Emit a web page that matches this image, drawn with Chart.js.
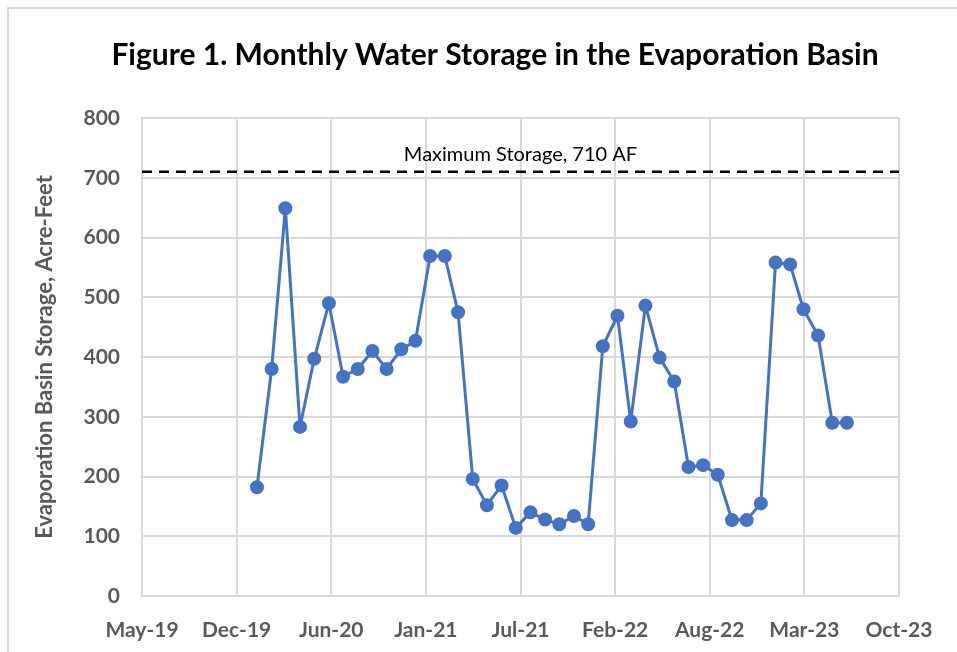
<!DOCTYPE html>
<html lang="en">
<head>
  <meta charset="UTF-8">
  <title>Monthly Water Storage in the Evaporation Basin</title>
  <script src="https://cdn.jsdelivr.net/npm/chart.js"></script>
  <style>
    * { margin: 0; padding: 0; box-sizing: border-box; }
    html, body { width: 957px; height: 652px; overflow: hidden; background: #fff; }
    /* light frame of the chart area, cut off at right and bottom like the picture */
    .frame {
      position: absolute; left: 7px; top: 7px;
      width: 2000px; height: 2000px;
      border: 2px solid #d9d9d9;
    }
    .chart-box { position: absolute; left: 0; top: 0; width: 957px; height: 652px; }
  </style>
</head>
<body>
  <div class="frame"></div>
  <div class="chart-box">
    <canvas id="storageChart"></canvas>
  </div>

  <script>
    // Monthly readings (acre-feet), Jan 2020 - Jun 2023
    const months = [
      '2020-01','2020-02','2020-03','2020-04','2020-05','2020-06',
      '2020-07','2020-08','2020-09','2020-10','2020-11','2020-12',
      '2021-01','2021-02','2021-03','2021-04','2021-05','2021-06',
      '2021-07','2021-08','2021-09','2021-10','2021-11','2021-12',
      '2022-01','2022-02','2022-03','2022-04','2022-05','2022-06',
      '2022-07','2022-08','2022-09','2022-10','2022-11','2022-12',
      '2023-01','2023-02','2023-03','2023-04','2023-05','2023-06'
    ];
    const storage = [
      182, 380, 649, 283, 397, 490,
      367, 380, 410, 380, 413, 427,
      569, 569, 475, 196, 152, 185,
      114, 140, 128, 120, 134, 120,
      418, 469, 292, 486, 399, 359,
      216, 219, 203, 127, 127, 155,
      558, 555, 480, 436, 290, 290
    ];
    const maxStorage = 710;
    const maxLabel = 'Maximum Storage, 710 AF';
    const chartTitle = 'Figure 1. Monthly Water Storage in the Evaporation Basin';

    // date axis: days counted from the axis start, ticks every 200 days
    const axisStart = Date.UTC(2019, 4, 17);
    const axisSpan = 1600;
    const tickStep = 200;
    const tickLabels = ['May-19','Dec-19','Jun-20','Jan-21','Jul-21','Feb-22','Aug-22','Mar-23','Oct-23'];
    const yTicks = { min: 0, max: 800, step: 100 };

    const dayOf = m => {
      const [yr, mo] = m.split('-').map(Number);
      return (Date.UTC(yr, mo - 1, 15) - axisStart) / 86400000;
    };
    const points = months.map((m, i) => ({ x: dayOf(m), y: storage[i] }));

    const blue = '#4472C4';
    const grey = '#595959';
    const gridCol = '#d9d9d9';
    const fam = 'Lato, "Open Sans", sans-serif';

    // title (centred like the original, not on the plot box) + text over the limit line
    const extraText = {
      id: 'extraText',
      afterDraw(chart) {
        const { ctx } = chart;
        ctx.save();
        ctx.textAlign = 'center';
        ctx.fillStyle = '#000';
        ctx.font = 'bold 30px ' + fam;
        ctx.textBaseline = 'middle';
        ctx.fillText(chartTitle, 495, 55);
        ctx.restore();
      },
      afterDatasetsDraw(chart) {
        const { ctx, scales } = chart;
        ctx.save();
        ctx.font = '20px ' + fam;
        ctx.fillStyle = '#000';
        ctx.textAlign = 'center';
        ctx.textBaseline = 'bottom';
        ctx.fillText(maxLabel, scales.x.getPixelForValue(axisSpan / 2), scales.y.getPixelForValue(maxStorage) - 7);
        ctx.restore();
      }
    };

    new Chart(document.getElementById('storageChart'), {
      type: 'line',
      data: {
        datasets: [
          {
            label: 'Storage',
            data: points,
            borderColor: blue,
            backgroundColor: blue,
            borderWidth: 3,
            borderJoinStyle: 'round',
            borderCapStyle: 'round',
            pointRadius: 6,
            pointBorderWidth: 2,
            pointBackgroundColor: blue,
            pointBorderColor: blue,
            tension: 0
          },
          {
            label: 'Maximum',
            data: [{ x: 0, y: maxStorage }, { x: axisSpan, y: maxStorage }],
            borderColor: '#000',
            borderWidth: 2.5,
            borderDash: [10, 7],
            pointRadius: 0
          }
        ]
      },
      options: {
        responsive: true,
        maintainAspectRatio: false,
        animation: false,
        layout: { padding: { left: 20, right: 58, top: 118, bottom: 0 } },
        plugins: {
          legend: { display: false },
          tooltip: { enabled: false },
          title: { display: false }
        },
        scales: {
          x: {
            type: 'linear',
            min: 0,
            max: axisSpan,
            afterBuildTicks: s => {
              s.ticks = tickLabels.map((_, i) => ({ value: i * tickStep }));
            },
            afterFit: s => { s.height = 56; },
            grid: { color: gridCol, lineWidth: 2, drawTicks: false },
            border: { color: gridCol, width: 2 },
            ticks: {
              padding: 22,
              maxRotation: 0,
              color: grey,
              font: { family: fam, size: 21, weight: 'bold' },
              callback: (v, i) => tickLabels[i]
            }
          },
          y: {
            min: yTicks.min,
            max: yTicks.max,
            afterFit: s => { s.width = 122; },
            grid: { color: gridCol, lineWidth: 2, drawTicks: false },
            border: { color: gridCol, width: 2 },
            ticks: {
              stepSize: yTicks.step,
              padding: 22,
              color: grey,
              font: { family: fam, size: 21, weight: 'bold' }
            },
            title: {
              display: true,
              text: 'Evaporation Basin Storage, Acre-Feet',
              color: grey,
              font: { family: fam, size: 22, weight: 'bold' },
              padding: { top: 12, bottom: 0 }
            }
          }
        }
      },
      plugins: [extraText]
    });
  </script>
</body>
</html>
